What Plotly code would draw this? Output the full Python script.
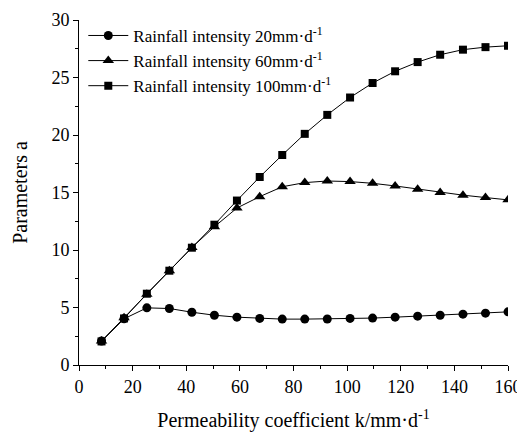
import plotly.graph_objects as go

k = [8.4, 16.8, 25.3, 33.7, 42.1, 50.5, 58.9, 67.4, 75.8, 84.2, 92.6, 101.1,
     109.5, 117.9, 126.3, 134.7, 143.2, 151.6, 160.0]
a_20 = [2.08, 4.02, 4.97, 4.91, 4.59, 4.33, 4.16, 4.05, 3.99, 3.99, 4.0, 4.05,
        4.08, 4.16, 4.25, 4.33, 4.42, 4.51, 4.62]
a_60 = [2.08, 4.1, 6.15, 8.2, 10.22, 12.02, 13.65, 14.64, 15.5, 15.86, 16.0, 15.95,
        15.8, 15.57, 15.29, 15.0, 14.77, 14.56, 14.36]
a_100 = [2.05, 4.05, 6.2, 8.2, 10.2, 12.2, 14.3, 16.35, 18.26, 20.1, 21.75, 23.26,
         24.52, 25.54, 26.34, 26.98, 27.42, 27.64, 27.76]

names = ["Rainfall intensity 20mm·d<sup>-1</sup>",
         "Rainfall intensity 60mm·d<sup>-1</sup>",
         "Rainfall intensity 100mm·d<sup>-1</sup>"]
symbols = ["circle", "triangle-up", "square"]
sizes = [9, 10, 8]

fig = go.Figure()
for y, n, s, sz in zip([a_20, a_60, a_100], names, symbols, sizes):
    fig.add_trace(go.Scatter(x=k, y=y, name=n, mode="lines+markers",
                             line=dict(color="black", width=1),
                             marker=dict(symbol=s, size=sz, color="black")))

font = dict(family="Liberation Serif, Times New Roman, serif", color="black")
# page body has an 8px default margin; compensate in figure size/margins
fig.update_layout(
    width=517, height=424,
    margin=dict(l=71, r=17, t=10, b=67),
    paper_bgcolor="white", plot_bgcolor="white",
    font=dict(size=18, **font),
    showlegend=True,
    legend=dict(x=0.01, y=1.006, xanchor="left", yanchor="top",
                bgcolor="rgba(0,0,0,0)", font=dict(size=17, **font),
                tracegroupgap=0, itemwidth=40),
    xaxis=dict(range=[0, 160], tickvals=[0, 20, 40, 60, 80, 100, 120, 140, 160],
               showline=True, linecolor="black", linewidth=1, mirror=False,
               ticks="outside", ticklen=5, tickcolor="black", showgrid=False,
               zeroline=False, tickfont=dict(size=18, **font), automargin=False,
               minor=dict(dtick=10, ticks="outside", ticklen=3, tickcolor="black"),
               title=dict(text="Permeability coefficient k/mm·d<sup>-1</sup>",
                          font=dict(size=20, **font), standoff=22)),
    yaxis=dict(range=[0, 30], tickvals=[0, 5, 10, 15, 20, 25, 30],
               showline=True, linecolor="black", linewidth=1, mirror=False,
               ticks="outside", ticklen=5, tickcolor="black", showgrid=False,
               zeroline=False, tickfont=dict(size=18, **font), automargin=False,
               minor=dict(dtick=2.5, ticks="outside", ticklen=3, tickcolor="black"),
               title=dict(text="Parameters a", font=dict(size=20, **font), standoff=18)),
)
fig.write_html("out.html")
